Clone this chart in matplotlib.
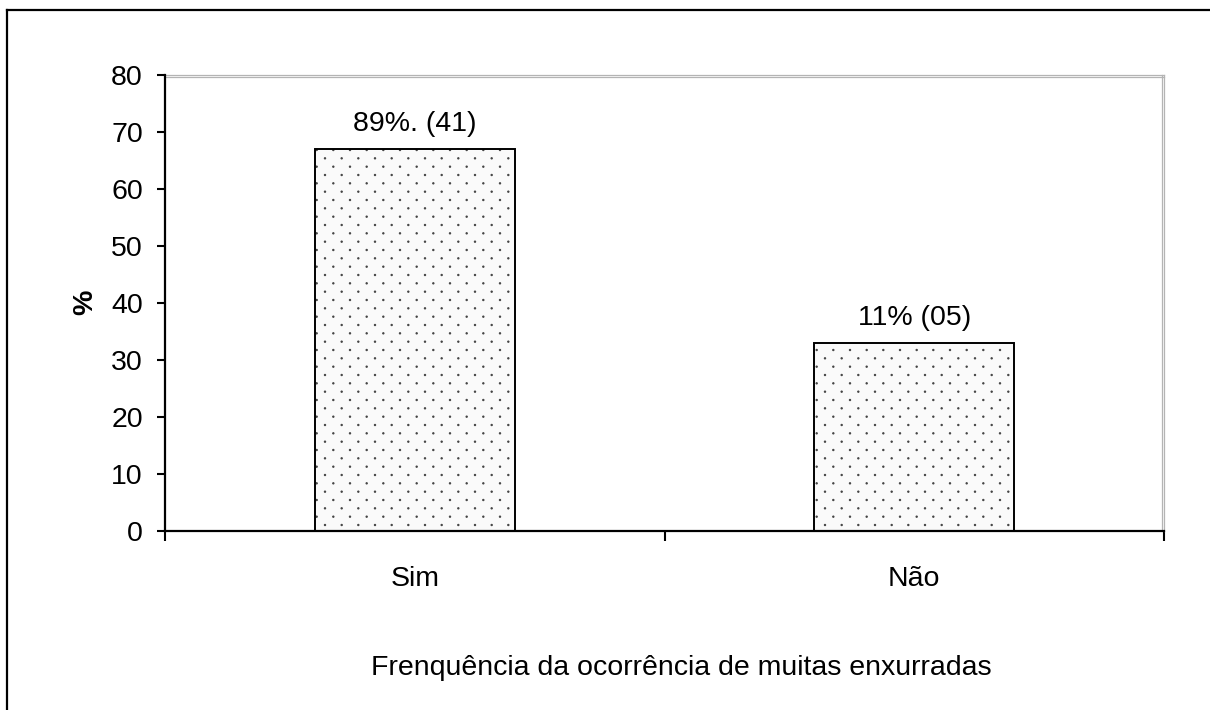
import numpy as np
import matplotlib
matplotlib.use("Agg")
import matplotlib.pyplot as plt
import matplotlib.hatch as mhatch
from matplotlib.path import Path
from matplotlib.lines import Line2D
from matplotlib.transforms import offset_copy

# ---- data ----
categories = ["Sim", "Não"]
values = [67, 33]
bar_labels = ["89%. (41)", "11% (05)"]
y_ticks = [0, 10, 20, 30, 40, 50, 60, 70, 80]
x_title = "Frenquência da ocorrência de muitas enxurradas"
y_title = "%"


# ---- custom dotted hatch (dense staggered dot lattice) ----
class _DotLattice(mhatch.HatchPatternBase):
    def __init__(self, hatch, density):
        ncol, nrow = 6, 12
        circ = Path.unit_circle()
        self.shape_v = circ.vertices * 0.007
        self.shape_c = circ.codes
        pts = []
        if hatch.count('.') > 0:
            for r in range(nrow + 1):
                if r % 2 == 0:
                    cols = np.linspace(0, 1, ncol + 1)
                else:
                    cols = np.linspace(0.5 / ncol, 1 - 0.5 / ncol, ncol)
                for c in cols:
                    pts.append((c, r / nrow))
        self.pts = pts
        self.num_vertices = len(pts) * len(self.shape_v)

    def set_vertices_and_codes(self, vertices, codes):
        if not self.pts:
            return
        np.concatenate([self.shape_v + p for p in self.pts], out=vertices)
        np.concatenate([self.shape_c for _ in self.pts], out=codes)


mhatch._hatch_types = [t for t in mhatch._hatch_types
                       if t is not mhatch.SmallFilledCircles] + [_DotLattice]

plt.rcParams['font.family'] = ['Liberation Sans', 'DejaVu Sans']
plt.rcParams['hatch.linewidth'] = 0.7

FS = 20.5
W, H = 1210, 710
fig = plt.figure(figsize=(W / 100, H / 100), dpi=100)
fig.patch.set_facecolor("white")

L, R, T, B = 165, 1164, 75, 531
ax = fig.add_axes([L / W, 1 - B / H, (R - L) / W, (B - T) / H])
ax.set_facecolor("white")

x = np.arange(len(categories))
ax.bar(x, values, width=0.4, color="#fafafa", edgecolor="#444444",
       hatch=".", linewidth=0, zorder=2)
ax.bar(x, values, width=0.4, fill=False, edgecolor="black",
       linewidth=1.4, zorder=3)

for xi, v, lab in zip(x, values, bar_labels):
    ax.annotate(lab, (xi, v), xytext=(0, 13), textcoords="offset points",
                ha="center", va="baseline", fontsize=FS)

ax.set_xlim(-0.5, len(categories) - 0.5)
ax.set_ylim(0, 80)
ax.set_yticks(y_ticks)
ax.tick_params(axis="y", direction="out", length=6, width=1.5,
               labelsize=FS, pad=10)
ax.set_xticks(x)
ax.set_xticklabels(categories)
ax.tick_params(axis="x", which="major", length=0, labelsize=FS, pad=25)
ax.set_xticks(np.arange(len(categories) + 1) - 0.5, minor=True)
ax.tick_params(axis="x", which="minor", direction="out", length=7, width=1.5)

for s in ["left", "bottom"]:
    ax.spines[s].set_linewidth(1.6)
    ax.spines[s].set_color("black")
gray = "#b4b4b4"
for s in ["top", "right"]:
    ax.spines[s].set_linewidth(0.9)
    ax.spines[s].set_color(gray)
ax.spines["left"].set_zorder(4)
ax.spines["bottom"].set_zorder(4)

# inner second gray lines (double border look)
ax.add_line(Line2D([0, 1], [1, 1], color=gray, lw=0.9, clip_on=False,
                   transform=offset_copy(ax.transAxes, fig=fig, y=-2, units="dots")))
ax.add_line(Line2D([1, 1], [0, 1], color=gray, lw=0.9, clip_on=False,
                   transform=offset_copy(ax.transAxes, fig=fig, x=-2, units="dots")))

fig.text(85 / W, 1 - 302 / H, y_title, rotation=90, ha="center", va="center",
         fontsize=FS, fontweight="bold")
fig.text(681 / W, 1 - 668 / H, x_title, ha="center", va="center", fontsize=FS)

# outer chart frame (left and top edges visible)
fig.add_artist(Line2D([7 / W, 7 / W], [0, 1 - 10 / H], color="black", lw=1.6,
                      transform=fig.transFigure))
fig.add_artist(Line2D([7 / W, 1], [1 - 10 / H, 1 - 10 / H], color="black", lw=1.6,
                      transform=fig.transFigure))

fig.savefig("out.png", dpi=100)
